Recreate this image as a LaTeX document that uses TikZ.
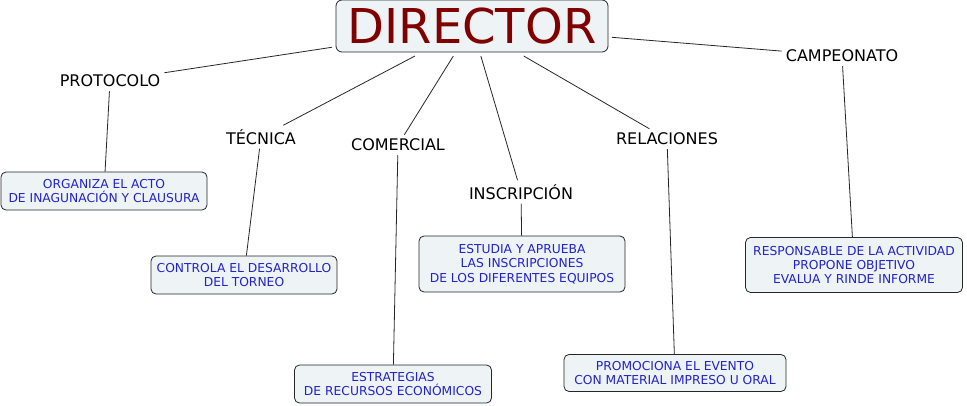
\documentclass[tikz,border=0pt]{standalone}
\usepackage{fontspec}
\setmainfont{DejaVu Sans}
\definecolor{boxfill}{RGB}{238,243,246}
\definecolor{boxblue}{RGB}{35,35,200}
\definecolor{dirred}{RGB}{128,0,0}
\begin{document}
\begin{tikzpicture}[x=1pt,y=-1pt,
  conn/.style={draw=black!85,line width=0.8pt},
  lbl/.style={inner sep=4pt,font=\fontsize{16}{19}\selectfont,text=black},
  infobox/.style={draw=black!85,fill=boxfill,rounded corners=5pt,line width=0.8pt,
    align=center,text=boxblue,font=\fontsize{12.3}{14.4}\selectfont,inner sep=0pt}]
\useasboundingbox (0,0) rectangle (967,406);
\node[draw=black!85,fill=boxfill,rounded corners=6pt,line width=0.8pt,minimum width=272pt,minimum height=52pt,inner sep=0pt,outer sep=4pt,text=dirred,font=\fontsize{48}{50}\selectfont] (dir) at (472,26) {DIRECTOR};
\node[lbl] (prot) at (110,81) {PROTOCOLO};
\node[lbl] (tec) at (261,137) {TÉCNICA};
\node[lbl] (com) at (398,145) {COMERCIAL};
\node[lbl] (ins) at (521,192) {INSCRIPCIÓN};
\node[lbl] (rel) at (667,139) {RELACIONES};
\node[lbl] (camp) at (842,56) {CAMPEONATO};
\node[infobox,minimum width=206pt,minimum height=38pt] (org) at (104,191) {ORGANIZA EL ACTO\\DE INAGUNACIÓN Y CLAUSURA};
\node[infobox,minimum width=186pt,minimum height=38pt] (ctrl) at (244,275) {CONTROLA EL DESARROLLO\\DEL TORNEO};
\node[infobox,minimum width=206pt,minimum height=56pt] (est) at (522,264) {ESTUDIA Y APRUEBA\\LAS INSCRIPCIONES\\DE LOS DIFERENTES EQUIPOS};
\node[infobox,minimum width=217pt,minimum height=55pt] (resp) at (854,265) {RESPONSABLE DE LA ACTIVIDAD\\PROPONE OBJETIVO\\EVALUA Y RINDE INFORME};
\node[infobox,minimum width=197pt,minimum height=38pt] (estr) at (393,384) {ESTRATEGIAS\\DE RECURSOS ECONÓMICOS};
\node[infobox,minimum width=222pt,minimum height=37pt] (prom) at (675,373) {PROMOCIONA EL EVENTO\\CON MATERIAL IMPRESO U ORAL};
\draw[conn] (dir) -- (prot);
\draw[conn] (dir) -- (tec);
\draw[conn] (dir) -- (com);
\draw[conn] (dir) -- (ins);
\draw[conn] (dir) -- (rel);
\draw[conn] (dir) -- (camp);
\draw[conn] (prot) -- (org);
\draw[conn] (tec) -- (ctrl);
\draw[conn] (com) -- (estr);
\draw[conn] (ins) -- (est);
\draw[conn] (rel) -- (prom);
\draw[conn] (camp) -- (resp);
\end{tikzpicture}
\end{document}
